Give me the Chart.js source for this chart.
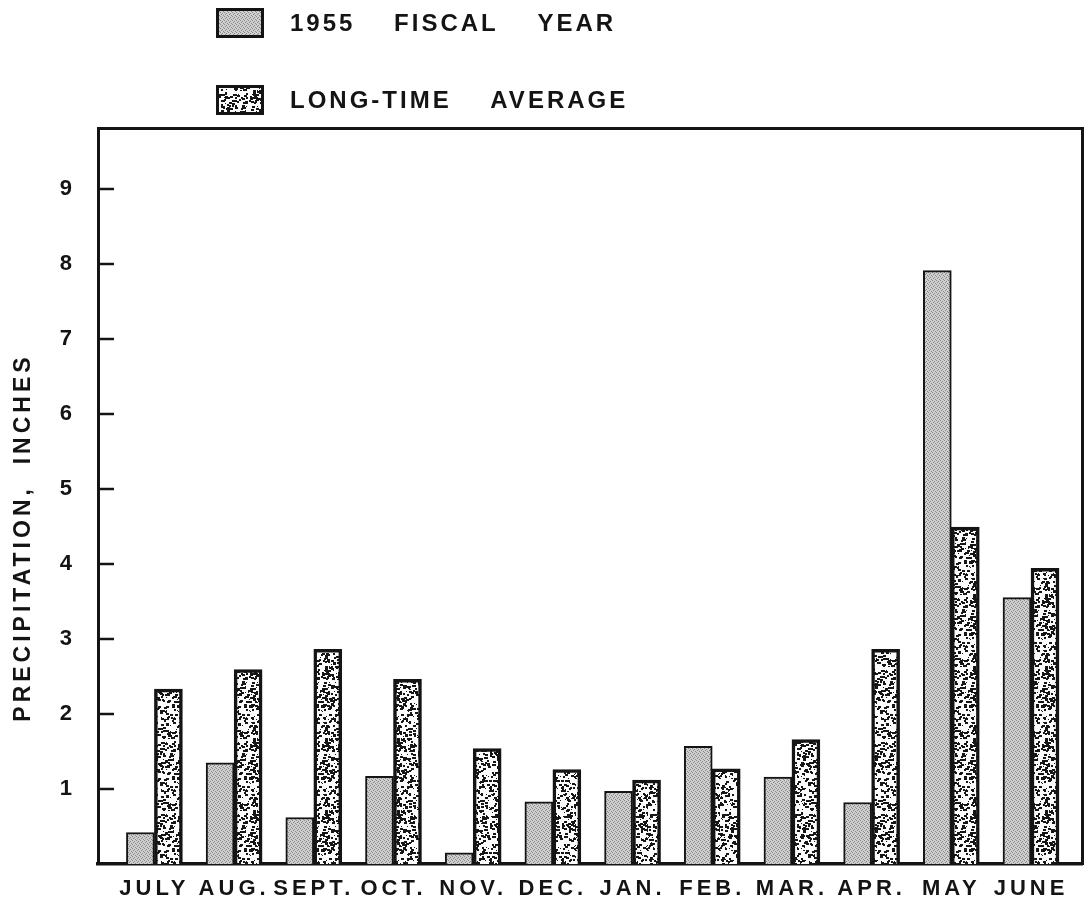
<!DOCTYPE html>
<html>
<head>
<meta charset="utf-8">
<script src="https://cdn.jsdelivr.net/npm/chart.js@4.4.1/dist/chart.umd.min.js"></script>
<style>
html,body{margin:0;padding:0;background:#fff;}
#wrap{width:1087px;height:902px;}
canvas{display:block;}
</style>
</head>
<body>
<div id="wrap"><canvas id="c" width="1087" height="902"></canvas></div>
<script>
// ---- data ----
const months = ['JULY','AUG.','SEPT.','OCT.','NOV.','DEC.','JAN.','FEB.','MAR.','APR.','MAY','JUNE'];
const fiscal1955 = [0.42, 1.35, 0.62, 1.17, 0.15, 0.83, 0.97, 1.57, 1.16, 0.82, 7.91, 3.55];
const longTimeAvg = [2.33, 2.59, 2.86, 2.46, 1.54, 1.26, 1.12, 1.27, 1.66, 2.86, 4.49, 3.94];
const yTickValues = [1, 2, 3, 4, 5, 6, 7, 8, 9];
const seriesNames = ['1955 FISCAL YEAR', 'LONG-TIME AVERAGE'];
const yTitle = 'PRECIPITATION,  INCHES';

// ---- fill textures ----
function hash(x, y) {
  let h = Math.imul(x, 374761393) + Math.imul(y, 668265263);
  h = Math.imul(h ^ (h >>> 13), 1274126177);
  h = h ^ (h >>> 16);
  return ((h >>> 0) % 10000) / 10000;
}
function makeGrayPattern() {
  const c = document.createElement('canvas');
  c.width = c.height = 4;
  const g = c.getContext('2d');
  g.fillStyle = '#cfcfcf';
  g.fillRect(0, 0, 4, 4);
  g.fillStyle = '#888888';
  [[0,0],[2,1],[1,2],[3,3]].forEach(([x,y]) => g.fillRect(x, y, 1, 1));
  return g.createPattern(c, 'repeat');
}
function makeSpecklePattern() {
  const n = 72;
  const c = document.createElement('canvas');
  c.width = c.height = n;
  const g = c.getContext('2d');
  g.fillStyle = '#fbfbfb';
  g.fillRect(0, 0, n, n);
  g.fillStyle = '#161616';
  for (let y = 0; y < n; y++) {
    for (let x = 0; x < n; x++) {
      const h = hash(x + 7, y + 13);
      if (h < 0.045) {
        g.fillRect(x, y, 3, 2);
      } else if (h < 0.085) {
        g.fillRect(x, y, 2, 2);
      } else if (h < 0.11) {
        g.fillRect(x, y, 1, 1);
      }
    }
  }
  return g.createPattern(c, 'repeat');
}
const grayPat = makeGrayPattern();
const specklePat = makeSpecklePattern();

const FONT = '"Liberation Sans", Arial, sans-serif';
const INK = '#141414';

// ---- plugins ----
const spacingPlugin = {
  id: 'spacing',
  beforeLayout(chart) { chart.ctx.letterSpacing = '4px'; },
  beforeDraw(chart) { chart.ctx.letterSpacing = '4px'; }
};
const innerTicksPlugin = {
  id: 'innerTicks',
  afterDraw(chart) {
    const ys = chart.scales.y;
    const {ctx, chartArea} = chart;
    ctx.save();
    ctx.strokeStyle = INK;
    ctx.lineWidth = 2.5;
    ys.ticks.forEach(t => {
      if (!yTickValues.includes(t.value)) return;
      const py = Math.round(ys.getPixelForValue(t.value));
      ctx.beginPath();
      ctx.moveTo(chartArea.left, py);
      ctx.lineTo(chartArea.left + 16, py);
      ctx.stroke();
    });
    ctx.restore();
  }
};
const legendPlugin = {
  id: 'manualLegend',
  afterDraw(chart) {
    const ctx = chart.ctx;
    ctx.save();
    ctx.letterSpacing = '3px';
    chart.data.datasets.forEach((ds, i) => {
      const top = 8 + i * 77;
      ctx.fillStyle = ds.backgroundColor;
      ctx.fillRect(216, top, 48, 30);
      ctx.lineWidth = 3;
      ctx.strokeStyle = INK;
      ctx.strokeRect(217.5, top + 1.5, 45, 27);
      ctx.fillStyle = INK;
      ctx.font = 'bold 24px ' + FONT;
      ctx.textBaseline = 'middle';
      ctx.textAlign = 'left';
      ctx.fillText(ds.label.replace(/ /g, '    '), 290, top + 16);
    });
    ctx.restore();
  }
};

new Chart(document.getElementById('c'), {
  type: 'bar',
  data: {
    datasets: [
      {
        label: seriesNames[0],
        data: fiscal1955.map((v, i) => ({x: i, y: v})),
        backgroundColor: grayPat,
        borderColor: INK,
        borderWidth: {top: 2, left: 2, right: 2, bottom: 0},
        borderSkipped: 'start',
        barThickness: 28
      },
      {
        label: seriesNames[1],
        data: longTimeAvg.map((v, i) => ({x: i, y: v})),
        backgroundColor: specklePat,
        borderColor: INK,
        borderWidth: {top: 3.5, left: 3.5, right: 3.5, bottom: 0},
        borderSkipped: 'start',
        barThickness: 28
      }
    ]
  },
  options: {
    responsive: false,
    animation: false,
    devicePixelRatio: 1,
    layout: {padding: {top: 128, left: 0, right: 0, bottom: 0}},
    plugins: {legend: {display: false}, tooltip: {enabled: false}},
    scales: {
      x: {
        type: 'linear',
        position: 'bottom',
        min: -0.708,
        max: 11.64,
        offset: false,
        z: 1,
        grid: {display: false, drawTicks: false, offset: false},
        border: {display: true, width: 3.5, color: INK},
        ticks: {
          stepSize: 1,
          includeBounds: false,
          autoSkip: false,
          maxRotation: 0,
          minRotation: 0,
          padding: 12,
          color: INK,
          font: {family: FONT, size: 22, weight: 'bold'},
          callback: (v) => Number.isInteger(v) && months[v] ? months[v] : ''
        },
        afterFit: (s) => { s.height = 38; }
      },
      x2: {
        type: 'linear',
        position: 'top',
        min: 0, max: 1,
        offset: false,
        grid: {display: false, drawTicks: false},
        ticks: {display: false},
        border: {display: true, width: 3, color: INK},
        afterFit: (s) => { s.height = 0; }
      },
      y: {
        type: 'linear',
        position: 'left',
        min: 0,
        max: 9.81,
        grid: {display: false, drawTicks: false},
        border: {display: true, width: 3, color: INK},
        ticks: {
          stepSize: 1,
          includeBounds: false,
          padding: 22,
          color: INK,
          font: {family: FONT, size: 22, weight: 'bold'},
          callback: (v) => yTickValues.includes(v) ? String(v) : ''
        },
        title: {
          display: true,
          text: yTitle + '        ',
          color: INK,
          font: {family: FONT, size: 23, weight: 'bold'},
          padding: {top: 10, bottom: 0}
        },
        afterFit: (s) => { s.width = 98; }
      },
      y2: {
        type: 'linear',
        position: 'right',
        min: 0, max: 1,
        grid: {display: false, drawTicks: false},
        ticks: {display: false},
        border: {display: true, width: 3, color: INK},
        afterFit: (s) => { s.width = 5; }
      }
    }
  },
  plugins: [spacingPlugin, innerTicksPlugin, legendPlugin]
});
</script>
</body>
</html>
